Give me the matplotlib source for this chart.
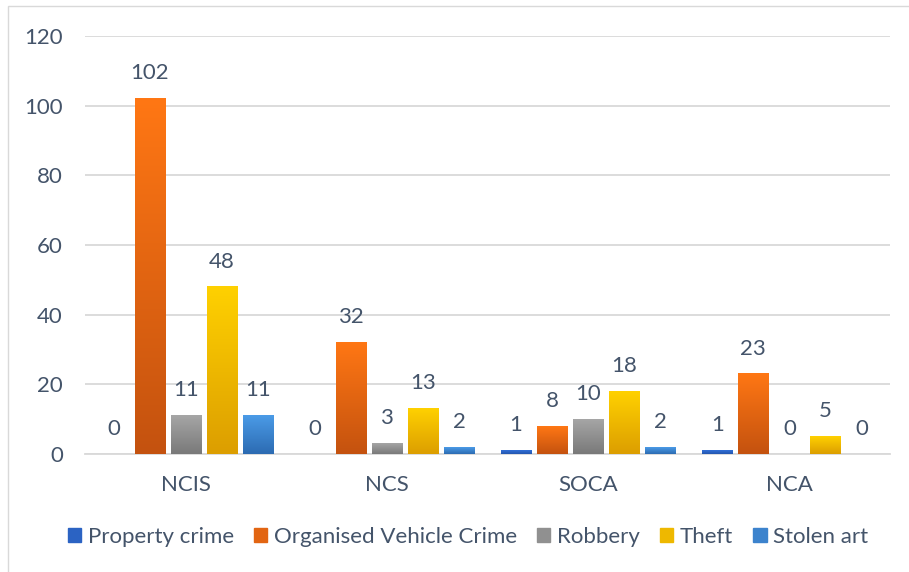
import matplotlib.pyplot as plt
import numpy as np
from matplotlib.colors import LinearSegmentedColormap
from matplotlib.patches import Rectangle

plt.rcParams['font.family'] = ['Lato', 'DejaVu Sans']

categories = ["NCIS", "NCS", "SOCA", "NCA"]
series_names = ["Property crime", "Organised Vehicle Crime", "Robbery", "Theft", "Stolen art"]
property_crime = [0, 0, 1, 1]
vehicle_crime = [102, 32, 8, 23]
robbery = [11, 3, 10, 0]
theft = [48, 13, 18, 5]
stolen_art = [11, 2, 2, 0]
series_values = [property_crime, vehicle_crime, robbery, theft, stolen_art]

# (top colour, bottom colour) for the Excel-like gradient fill
grads = [("#3170D8", "#2456AE"),
         ("#FF7714", "#C4520F"),
         ("#A6A6A6", "#797979"),
         ("#FFD100", "#DC9E00"),
         ("#4B9BE7", "#2C6BB2")]
text_col = "#44546A"
grid_col = "#D9D9D9"
fs = 16

fig = plt.figure(figsize=(9.09, 5.72), dpi=100)
ax = fig.add_axes([85 / 909, 1 - 454 / 572, 805 / 909, 418 / 572])

x = np.arange(len(categories))
step = 36 / 201
width = 30 / 201
grad = np.linspace(0, 1, 256).reshape(-1, 1)

for i, (name, vals) in enumerate(zip(series_names, series_values)):
    pos = x + (i - 2) * step
    bars = ax.bar(pos, vals, width, color="none", edgecolor="none", zorder=3)
    cmap = LinearSegmentedColormap.from_list(name, [grads[i][1], grads[i][0]])
    for b, v in zip(bars, vals):
        if v <= 0:
            continue
        x0 = b.get_x()
        ax.imshow(grad, cmap=cmap, origin="lower", aspect="auto",
                  extent=(x0, x0 + width, 0, v), zorder=3)
    for p, v in zip(pos, vals):
        ax.annotate(str(v), (p, v), xytext=(0, 11), textcoords="offset points",
                    ha="center", va="bottom", fontsize=fs, color=text_col)

ax.set_xlim(-0.5, len(categories) - 0.5)
ax.set_ylim(0, 120)
ax.set_yticks(range(0, 121, 20))
ax.set_xticks(x)
ax.set_xticklabels(categories)
ax.grid(axis="y", color=grid_col, linewidth=1.3, zorder=0)
ax.set_axisbelow(True)
for s in ["top", "right", "left"]:
    ax.spines[s].set_visible(False)
ax.spines["bottom"].set_color(grid_col)
ax.spines["bottom"].set_linewidth(1.3)
ax.tick_params(axis="both", length=0, labelsize=fs, labelcolor=text_col)
ax.tick_params(axis="y", pad=16)
ax.tick_params(axis="x", pad=15)

# legend squares use the gradient mid colour
handles = []
for top, bot in grads:
    cm = LinearSegmentedColormap.from_list("h", [bot, top])
    handles.append(Rectangle((0, 0), 1, 1, color=cm(0.5)))
fig.legend(handles, series_names, loc="center", bbox_to_anchor=(0.515, 1 - 537 / 572),
           ncol=5, frameon=False, fontsize=fs, labelcolor=text_col,
           handlelength=0.6, handleheight=0.6, handletextpad=0.3, columnspacing=0.9)

# chart area border
fig.patches.append(Rectangle((8 / 909, -0.1), 1.2, 1 - 6 / 572 + 0.1, transform=fig.transFigure,
                             fill=False, edgecolor="#D9D9D9", linewidth=1.0))

fig.savefig("out.png", dpi=100)
